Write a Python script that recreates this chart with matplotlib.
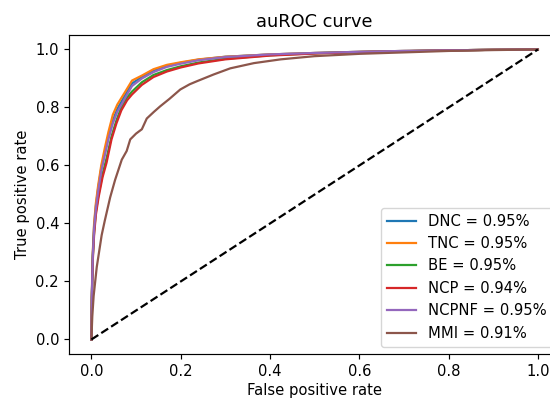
import matplotlib
matplotlib.use("Agg")
import matplotlib.pyplot as plt

# ROC curves
fpr_dnc = [0, 0.001, 0.003, 0.006, 0.01, 0.015, 0.022, 0.03, 0.038, 0.048, 0.058, 0.068, 0.08, 0.091, 0.113, 0.139, 0.169, 0.2, 0.24, 0.3, 0.4, 0.5, 0.6, 0.7, 0.8, 0.9, 1.0]
tpr_dnc = [0, 0.15, 0.29, 0.39, 0.46, 0.52, 0.59, 0.645, 0.70, 0.755, 0.795, 0.822, 0.855, 0.883, 0.905, 0.927, 0.944, 0.954, 0.965, 0.975, 0.983, 0.988, 0.992, 0.995, 0.997, 0.999, 1.0]

fpr_tnc = [0, 0.001, 0.003, 0.006, 0.01, 0.015, 0.022, 0.03, 0.038, 0.048, 0.058, 0.068, 0.08, 0.091, 0.113, 0.139, 0.169, 0.2, 0.24, 0.3, 0.4, 0.5, 0.6, 0.7, 0.8, 0.9, 1.0]
tpr_tnc = [0, 0.16, 0.30, 0.40, 0.47, 0.53, 0.60, 0.66, 0.715, 0.775, 0.81, 0.835, 0.865, 0.893, 0.91, 0.932, 0.947, 0.956, 0.966, 0.975, 0.983, 0.988, 0.992, 0.995, 0.997, 0.999, 1.0]

fpr_be = [0, 0.001, 0.003, 0.006, 0.01, 0.016, 0.025, 0.034, 0.045, 0.056, 0.067, 0.08, 0.091, 0.113, 0.139, 0.169, 0.2, 0.24, 0.3, 0.4, 0.5, 0.6, 0.7, 0.8, 0.9, 1.0]
tpr_be = [0, 0.145, 0.28, 0.37, 0.44, 0.50, 0.57, 0.625, 0.70, 0.755, 0.80, 0.835, 0.855, 0.887, 0.912, 0.929, 0.942, 0.955, 0.968, 0.980, 0.987, 0.991, 0.994, 0.997, 0.999, 1.0]

fpr_ncp = [0, 0.001, 0.003, 0.006, 0.01, 0.016, 0.025, 0.034, 0.045, 0.056, 0.067, 0.08, 0.091, 0.113, 0.139, 0.169, 0.2, 0.24, 0.3, 0.4, 0.5, 0.6, 0.7, 0.8, 0.9, 1.0]
tpr_ncp = [0, 0.14, 0.27, 0.36, 0.43, 0.49, 0.56, 0.61, 0.69, 0.745, 0.79, 0.825, 0.845, 0.878, 0.905, 0.924, 0.938, 0.952, 0.966, 0.979, 0.986, 0.991, 0.994, 0.997, 0.999, 1.0]

fpr_ncpnf = [0, 0.001, 0.003, 0.006, 0.01, 0.015, 0.022, 0.03, 0.038, 0.048, 0.058, 0.068, 0.08, 0.091, 0.113, 0.139, 0.169, 0.2, 0.24, 0.3, 0.4, 0.5, 0.6, 0.7, 0.8, 0.9, 1.0]
tpr_ncpnf = [0, 0.15, 0.285, 0.38, 0.45, 0.51, 0.58, 0.635, 0.69, 0.745, 0.785, 0.812, 0.845, 0.874, 0.9, 0.922, 0.94, 0.951, 0.963, 0.974, 0.983, 0.988, 0.992, 0.995, 0.997, 0.999, 1.0]

fpr_mmi = [0, 0.002, 0.005, 0.012, 0.023, 0.03, 0.042, 0.053, 0.068, 0.079, 0.087, 0.1, 0.113, 0.124, 0.14, 0.154, 0.175, 0.199, 0.22, 0.237, 0.274, 0.311, 0.364, 0.424, 0.5, 0.6, 0.7, 0.8, 0.9, 1.0]
tpr_mmi = [0, 0.08, 0.15, 0.25, 0.36, 0.41, 0.49, 0.55, 0.62, 0.65, 0.69, 0.71, 0.725, 0.762, 0.785, 0.804, 0.83, 0.862, 0.88, 0.891, 0.914, 0.935, 0.953, 0.966, 0.977, 0.985, 0.99, 0.995, 0.998, 1.0]

labels = ["DNC = 0.95%", "TNC = 0.95%", "BE = 0.95%", "NCP = 0.94%", "NCPNF = 0.95%", "MMI = 0.91%"]

# the reference looks like a slightly upscaled default figure
scale = 1.065
plt.rcParams['font.size'] = 10 * scale
plt.rcParams['lines.linewidth'] = 1.5 * scale
plt.rcParams['axes.linewidth'] = 0.8 * scale
plt.rcParams['xtick.major.size'] = 3.5 * scale
plt.rcParams['ytick.major.size'] = 3.5 * scale
plt.rcParams['xtick.major.width'] = 0.8 * scale
plt.rcParams['ytick.major.width'] = 0.8 * scale

fig = plt.figure(figsize=(5.5, 3.99), dpi=100)
# the original picture is cut off on the right, so the axes run past the figure edge
ax = fig.add_axes([0.1256, 0.1128, 0.893, 0.7995])

ax.plot(fpr_dnc, tpr_dnc, label=labels[0])
ax.plot(fpr_tnc, tpr_tnc, label=labels[1])
ax.plot(fpr_be, tpr_be, label=labels[2])
ax.plot(fpr_ncp, tpr_ncp, label=labels[3])
ax.plot(fpr_ncpnf, tpr_ncpnf, label=labels[4])
ax.plot(fpr_mmi, tpr_mmi, label=labels[5])
ax.plot([0, 1], [0, 1], 'k--')

ax.set_xlabel("False positive rate", labelpad=2.5)
ax.set_ylabel("True positive rate")
ax.set_title("auROC curve")
ax.legend(loc="lower right")

fig.savefig("out.png", dpi=100)
